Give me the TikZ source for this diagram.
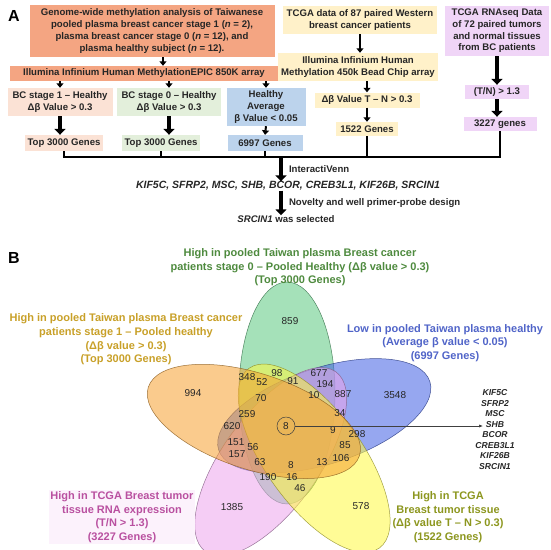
\documentclass[tikz,border=0pt]{standalone}
\usepackage{fontspec}
\setmainfont{Liberation Sans}
\usetikzlibrary{arrows.meta,positioning}
\definecolor{boxorange}{HTML}{F4A582}
\definecolor{boxpink}{HTML}{FBE2D5}
\definecolor{boxgreen}{HTML}{E3EFDB}
\definecolor{boxblue}{HTML}{BCD3EC}
\definecolor{boxyellow}{HTML}{FFF1C9}
\definecolor{boxviolet}{HTML}{F0D5F7}
\definecolor{vgreen}{RGB}{91,200,127}
\definecolor{vblue}{RGB}{64,95,227}
\definecolor{vyellow}{RGB}{255,250,64}
\definecolor{vpink}{RGB}{236,164,236}
\definecolor{vorange}{RGB}{245,160,48}
\definecolor{tgreen}{RGB}{78,138,62}
\definecolor{torange}{RGB}{200,160,40}
\definecolor{tblue}{RGB}{80,100,200}
\definecolor{tpink}{RGB}{185,80,160}
\definecolor{tyellow}{RGB}{140,150,30}

\begin{document}
\begin{tikzpicture}[
  x=1pt,
  y=-1pt,
  every node/.style={font=\bfseries\fontsize{9.6}{11.7}\selectfont, text=black!85, inner sep=0pt},
  box/.style={align=center},
  sarrow/.style={-{Triangle[width=7pt,length=4.5pt]}, line width=2pt},
  barrow/.style={-{Triangle[width=11pt,length=6pt]}, line width=4pt},
  bus/.style={line width=2.5pt},
  vnum/.style={font=\fontsize{10}{11}\selectfont},
  vlabel/.style={align=center, font=\bfseries\fontsize{11}{13.6}\selectfont},
  pointer/.style={-{Latex[length=4pt,width=3pt]}, line width=1pt, draw=black!75}
]
\useasboundingbox (0,0) rectangle (550,550);

% panel A
\node[font=\bfseries\fontsize{16}{16}\selectfont, text=black] (la) at (14,16) {A};
\node[box, fill=boxorange, minimum width=245pt, minimum height=52pt] (top1) at (152,31)
  {Genome-wide methylation analysis of Taiwanese\\pooled plasma breast cancer stage 1 (\textit{n} = 2),\\plasma breast cancer stage 0 (\textit{n} = 12), and\\plasma healthy subject (\textit{n} = 12).};
\node[box, fill=boxorange, minimum width=268pt, minimum height=15pt] (ill850) at (144,73.5)
  {Illumina\ Infinium\ Human\ MethylationEPIC\ 850K array};
\node[box, fill=boxpink, minimum width=105pt, minimum height=28pt] (bc1) at (60,102)
  {BC stage 1 – Healthy\\Δβ Value > 0.3};
\node[box, fill=boxgreen, minimum width=104pt, minimum height=28pt] (bc0) at (169,102)
  {BC stage 0 – Healthy\\Δβ Value > 0.3};
\node[box, fill=boxblue, minimum width=79pt, minimum height=38pt] (hlth) at (266,107)
  {Healthy\\Average\\β Value < 0.05};
\node[box, fill=boxpink, minimum width=78pt, minimum height=16pt] (g1) at (64,143) {Top 3000 Genes};
\node[box, fill=boxgreen, minimum width=78pt, minimum height=16pt] (g0) at (161,143) {Top 3000 Genes};
\node[box, fill=boxblue, minimum width=75pt, minimum height=16pt] (g6997) at (265,143) {6997 Genes};

\node[box, fill=boxyellow, minimum width=154pt, minimum height=28pt] (tcga) at (360,20)
  {TCGA data of 87 paired Western\\breast cancer patients};
\node[box, fill=boxyellow, minimum width=160pt, minimum height=28pt] (ill450) at (358,67)
  {Illumina\ Infinium\ Human\\Methylation\ 450k Bead Chip array};
\node[box, fill=boxyellow, minimum width=105pt, minimum height=15pt] (dbeta) at (367,100)
  {Δβ Value T – N > 0.3};
\node[box, fill=boxyellow, minimum width=62pt, minimum height=14pt] (g1522) at (367,129) {1522 Genes};

\node[box, fill=boxviolet, minimum width=104pt, minimum height=50pt] (rna) at (497,31)
  {TCGA RNAseq Data\\of 72 paired tumors\\and normal tissues\\from BC patients};
\node[box, fill=boxviolet, minimum width=64pt, minimum height=14pt] (tn) at (497,92) {(T/N) > 1.3};
\node[box, fill=boxviolet, minimum width=73pt, minimum height=14pt] (g3227) at (500,124) {3227 genes};

\draw[sarrow] ([xshift=11pt]top1.south) -- ([xshift=11pt]top1.south |- ill850.north);
\foreach \n in {bc1,bc0,hlth}
  \draw[sarrow] (\n.north |- ill850.south) -- (\n.north);
\draw[barrow] (bc1.south) -- (bc1.south |- g1.north);
\draw[barrow] (bc0.south) -- (bc0.south |- g0.north);
\draw[sarrow] (hlth.south) -- (g6997.north);
\draw[sarrow] (tcga.south) -- (tcga.south |- ill450.north);
\draw[sarrow] (ill450.south -| dbeta.north) -- (dbeta.north);
\draw[sarrow] (dbeta.south) -- (g1522.north);
\draw[barrow] (rna.south) -- (tn.north);
\draw[barrow] (tn.south) -- (tn.south |- g3227.north);

\coordinate (busl) at (64,157);
\foreach \n in {g1,g0,g6997,g1522,g3227}
  \draw[bus] (\n.south) -- (\n.south |- busl);
\draw[bus] ([xshift=-1.25pt]busl) -- ([xshift=1.25pt]busl -| g3227.south);

\node[font=\bfseries\itshape\fontsize{10.5}{12}\selectfont] (genes) at (288,186)
  {KIF5C, SFRP2, MSC, SHB, BCOR, CREB3L1, KIF26B, SRCIN1};
\coordinate (fork) at (281,157);
\draw[barrow] (fork) -- node[right=6pt] {InteractiVenn} (fork |- genes.north);
\node (sel) at (286,219) {\textit{SRCIN1} was selected};
\draw[barrow] (fork |- genes.south) -- node[right=6pt] {Novelty and well primer-probe design} (fork |- sel.north);

% panel B
\node[font=\bfseries\fontsize{16}{16}\selectfont, text=black] (lb) at (14,258) {B};
\coordinate (vc) at (290,430);
\foreach \ang/\col in {90/vgreen,18/vblue,-126/vpink,-54/vyellow,162/vorange}{
  \begin{scope}[shift={(vc)}, rotate=\ang]
    \filldraw[fill=\col, fill opacity=0.55, draw=\col!55!black, draw opacity=0.8, line width=0.5pt]
      (37,-3) ellipse [x radius=111, y radius=48];
  \end{scope}
}

\foreach \val/\px/\py in {859/290/321, 994/193/393, 3548/395/395, 1385/232/507, 578/361/506,
  348/247/377, 52/262/382, 98/277/373, 91/293/381, 677/319/373, 194/325/384, 10/314/395,
  887/343/394, 70/261/398, 259/247/414, 620/232/426, 34/340/413, 9/333/430, 298/357/434,
  151/236/442, 56/253/447, 157/237/454, 85/345/445, 106/341/458, 63/260/462, 8/291/465,
  13/322/462, 190/268/477, 16/292/477, 46/300/488}
  \node[vnum] (n\val) at (\px,\py) {\val};
\node[vnum, circle, draw=black!75, line width=0.5pt, minimum size=18pt] (c8) at (286,426) {8};

\node[font=\bfseries\itshape\fontsize{8.6}{10.45}\selectfont, align=center] (glist) at (495,429.5)
  {KIF5C\\SFRP2\\MSC\\SHB\\BCOR\\CREB3L1\\KIF26B\\SRCIN1};
\draw[pointer] (c8.east) -- ([xshift=8pt]c8.east -| glist.west);

\node[vlabel, text=tgreen] (lgreen) at (300,267.5)
  {High in pooled Taiwan plasma Breast cancer\\patients stage 0 – Pooled Healthy (Δβ value > 0.3)\\(Top 3000 Genes)};
\node[vlabel, text=torange] (lorange) at (126,339.5)
  {High in pooled Taiwan plasma Breast cancer\\patients stage 1 – Pooled healthy\\(Δβ value > 0.3)\\(Top 3000 Genes)};
\node[vlabel, text=tblue] (lblue) at (445,343)
  {Low in pooled Taiwan plasma healthy\\(Average β value < 0.05)\\(6997 Genes)};
\node[vlabel, text=tpink, fill=vpink!14, inner sep=1pt] (lpink) at (122,517)
  {High in TCGA Breast tumor\\tissue RNA expression\\(T/N > 1.3)\\(3227 Genes)};
\node[vlabel, text=tyellow] (lyellow) at (448,517)
  {High in TCGA\\Breast tumor tissue\\(Δβ value T – N > 0.3)\\(1522 Genes)};
\end{tikzpicture}
\end{document}
